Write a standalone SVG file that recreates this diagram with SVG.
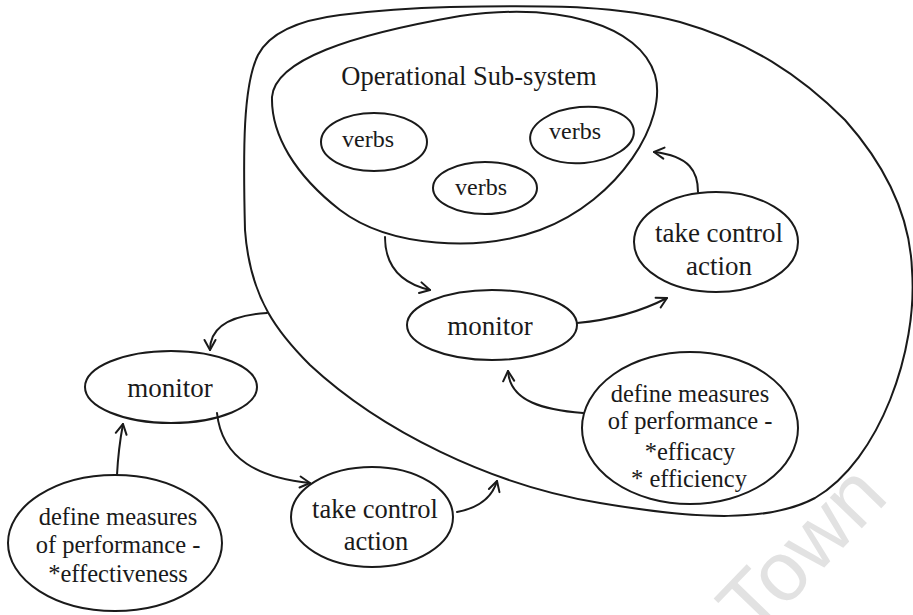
<svg xmlns="http://www.w3.org/2000/svg" width="913" height="615" viewBox="0 0 913 615">
  <style>
    .line { fill: none; stroke: #1a1a1a; stroke-width: 2; stroke-linecap: round; stroke-linejoin: round; }
    .node { fill: #ffffff; stroke: #1a1a1a; stroke-width: 2; }
    .lbl { font-family: "Liberation Serif", "Times New Roman", serif; fill: #1a1a1a; text-anchor: middle; }
    .big { font-size: 27px; }
    .mid { font-size: 26.5px; }
    .small { font-size: 24.5px; }
    .verb { font-size: 24px; }
    .conn { fill: none; stroke: #1a1a1a; stroke-width: 2; stroke-linecap: round; marker-end: url(#arrow); }
  </style>
  <defs>
    <marker id="arrow" viewBox="0 0 14 14" markerWidth="14" markerHeight="14" markerUnits="userSpaceOnUse" refX="12" refY="7" orient="auto">
      <path d="M2,1.5 L12,7 L2,12.5" fill="none" stroke="#1a1a1a" stroke-width="2" stroke-linecap="round" stroke-linejoin="round"/>
    </marker>
  </defs>

  <rect width="913" height="615" fill="#ffffff"/>

  <!-- watermark -->
  <text transform="translate(754,640) rotate(-46)" font-family="Liberation Sans, Arial, sans-serif" font-size="84" fill="#e2e2e2">Town</text>

  <!-- enclosing system boundary -->
  <g id="system-boundary">
    <path class="line" d="M245,230 C243,150 243,85 258,55 C270,32 300,20 340,15 C380,10 410,8 450,7 C560,5 620,6 680,22 C750,42 800,75 845,120 C885,165 910,215 912,270 C918,350 880,460 815,498 C770,522 700,520 600,503 C490,485 380,430 310,365 C280,335 250,300 245,230 Z"/>
  </g>

  <!-- operational sub-system -->
  <g id="operational-subsystem">
    <path class="line" d="M272,97 C275,60 350,35 460,16 C560,2 640,25 655,75 C668,120 620,200 540,230 C480,252 390,248 340,210 C295,175 271,135 272,97 Z"/>
    <text class="lbl mid" x="469" y="85">Operational Sub-system</text>
  </g>

  <g id="verbs-1">
    <ellipse class="node" cx="374" cy="142" rx="53" ry="29"/>
    <text class="lbl verb" x="368" y="147">verbs</text>
  </g>
  <g id="verbs-2">
    <ellipse class="node" cx="582" cy="135" rx="52" ry="28" transform="rotate(-5 582 135)"/>
    <text class="lbl verb" x="575" y="139">verbs</text>
  </g>
  <g id="verbs-3">
    <ellipse class="node" cx="485" cy="188" rx="52" ry="26"/>
    <text class="lbl verb" x="481" y="195">verbs</text>
  </g>

  <g id="inner-control-action">
    <ellipse class="node" cx="716" cy="242" rx="82" ry="50"/>
    <text class="lbl big" x="719" y="242">take control</text>
    <text class="lbl big" x="719" y="275">action</text>
  </g>

  <g id="inner-monitor">
    <ellipse class="node" cx="492" cy="325" rx="85" ry="35"/>
    <text class="lbl big" x="490" y="335">monitor</text>
  </g>

  <g id="inner-measures">
    <ellipse class="node" cx="690" cy="428" rx="108" ry="76"/>
    <text class="lbl small" x="690" y="402">define measures</text>
    <text class="lbl small" x="690" y="429">of performance -</text>
    <text class="lbl small" x="690" y="460">*efficacy</text>
    <text class="lbl small" x="689" y="487">* efficiency</text>
  </g>

  <g id="outer-monitor">
    <ellipse class="node" cx="171" cy="387" rx="86" ry="36"/>
    <text class="lbl big" x="170" y="397">monitor</text>
  </g>

  <g id="outer-measures">
    <ellipse class="node" cx="115" cy="543" rx="107" ry="68"/>
    <text class="lbl small" x="118" y="525">define measures</text>
    <text class="lbl small" x="118" y="553">of performance -</text>
    <text class="lbl small" x="118" y="582">*effectiveness</text>
  </g>

  <g id="outer-control-action">
    <ellipse class="node" cx="372" cy="517" rx="81" ry="50"/>
    <text class="lbl mid" x="375" y="518">take control</text>
    <text class="lbl mid" x="376" y="550">action</text>
  </g>

  <!-- connectors -->
  <g id="connectors">
    <path class="conn" d="M698,192 C698,172 690,156 654,152"/>
    <path class="conn" d="M385,237 C385,265 400,283 430,290"/>
    <path class="conn" d="M577,323 C610,320 640,312 667,298"/>
    <path class="conn" d="M583,413 C545,410 510,402 508,371"/>
    <path class="conn" d="M267,313 C235,315 210,325 210,350"/>
    <path class="conn" d="M117,475 C118,455 120,440 123,424"/>
    <path class="conn" d="M217,413 C222,460 260,478 310,483"/>
    <path class="conn" d="M457,512 C478,508 492,498 497,481"/>
  </g>
</svg>
